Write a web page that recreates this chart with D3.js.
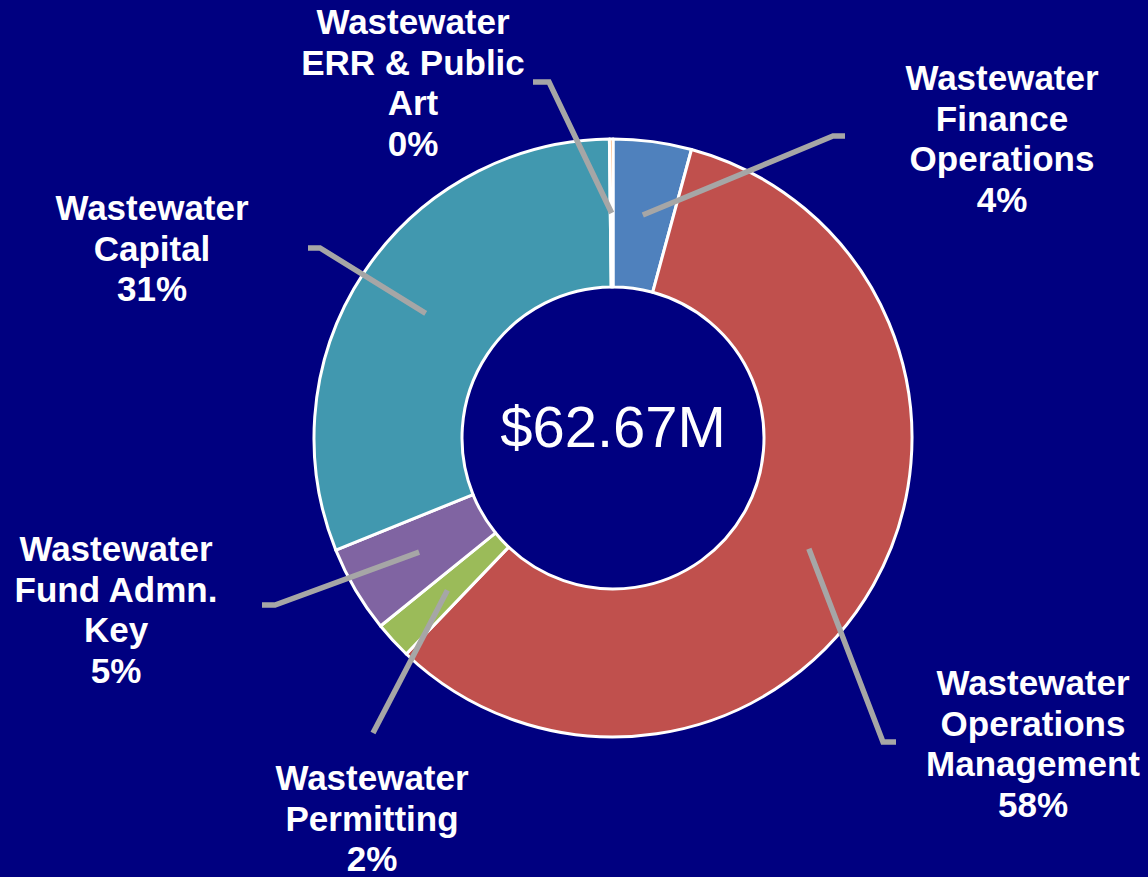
<!DOCTYPE html>
<html>
<head>
<meta charset="utf-8">
<script src="https://cdn.jsdelivr.net/npm/d3@7"></script>
<style>
html,body{margin:0;padding:0;background:#000080;}
svg{display:block;}
</style>
</head>
<body>
<svg id="chart" width="1148" height="877"></svg>
<script>
// ---- data ----
const categories = [
  "Wastewater Finance Operations",
  "Wastewater Operations Management",
  "Wastewater Permitting",
  "Wastewater Fund Admn. Key",
  "Wastewater Capital",
  "Wastewater ERR & Public Art"
];
const labelLines = [
  ["Wastewater", "Finance", "Operations"],
  ["Wastewater", "Operations", "Management"],
  ["Wastewater", "Permitting"],
  ["Wastewater", "Fund Admn.", "Key"],
  ["Wastewater", "Capital"],
  ["Wastewater", "ERR & Public", "Art"]
];
const values = [2.65, 36.3, 1.27, 2.95, 19.38, 0.12]; // $M
const colors = ["#4F81BD", "#C0504D", "#9BBB59", "#8064A2", "#4198AF", "#F79646"];

// ---- layout (label placement) ----
const labelLayout = [
  {tx: 1002, ty: 90,  elbow: [833, 136], end: [845, 136]},
  {tx: 1033, ty: 695, elbow: [883, 742], end: [896, 742]},
  {tx: 372,  ty: 790, elbow: [373, 733], end: [373, 733]},
  {tx: 116,  ty: 561, elbow: [275, 605], end: [262, 605]},
  {tx: 152,  ty: 220, elbow: [320, 248], end: [308, 248]},
  {tx: 413,  ty: 34,  elbow: [549, 82],  end: [533, 82]}
];

const W = 1148, H = 877;
const cx = 613, cy = 438;
const rOuter = 299, rInner = 151;
const lineH = 40.5;

const svg = d3.select("#chart");
svg.append("rect").attr("width", W).attr("height", H).attr("fill", "#000080");

const data = categories.map((c, i) => ({name: c, value: values[i], color: colors[i], lines: labelLines[i], lay: labelLayout[i]}));
const total = d3.sum(values);

const pie = d3.pie().sort(null).value(d => d.value);
const arcs = pie(data);
const arc = d3.arc().innerRadius(rInner).outerRadius(rOuter);

const g = svg.append("g").attr("transform", `translate(${cx},${cy})`);

g.selectAll("path.slice")
  .data(arcs)
  .join("path")
  .attr("class", "slice")
  .attr("d", arc)
  .attr("fill", d => d.data.color)
  .attr("stroke", "#FFFFFF")
  .attr("stroke-width", 3)
  .attr("stroke-linejoin", "round");

// leader lines
svg.append("g").selectAll("polyline")
  .data(arcs)
  .join("polyline")
  .attr("points", d => {
    const c = arc.centroid(d);
    const p0 = [c[0] + cx, c[1] + cy];
    return [p0, d.data.lay.elbow, d.data.lay.end].map(p => p.join(",")).join(" ");
  })
  .attr("fill", "none")
  .attr("stroke", "#A6A6A6")
  .attr("stroke-width", 5.5)
  .attr("stroke-linejoin", "miter");

// labels
const pct = d3.format(".0%");
const lbl = svg.append("g")
  .attr("font-family", "'Liberation Sans', Arial, sans-serif")
  .attr("font-weight", "bold")
  .attr("font-size", 35)
  .attr("fill", "#FFFFFF")
  .attr("text-anchor", "middle");

arcs.forEach(d => {
  const t = lbl.append("text").attr("x", d.data.lay.tx).attr("y", d.data.lay.ty);
  const lines = d.data.lines.concat([pct(d.data.value / total)]);
  lines.forEach((s, i) => {
    t.append("tspan").attr("x", d.data.lay.tx).attr("dy", i === 0 ? 0 : lineH).text(s);
  });
});

// center total
svg.append("text")
  .attr("x", cx).attr("y", 447)
  .attr("text-anchor", "middle")
  .attr("font-family", "'Liberation Sans', Arial, sans-serif")
  .attr("font-size", 58)
  .attr("fill", "#FFFFFF")
  .text("$" + d3.format(".2f")(total) + "M");
</script>
</body>
</html>
